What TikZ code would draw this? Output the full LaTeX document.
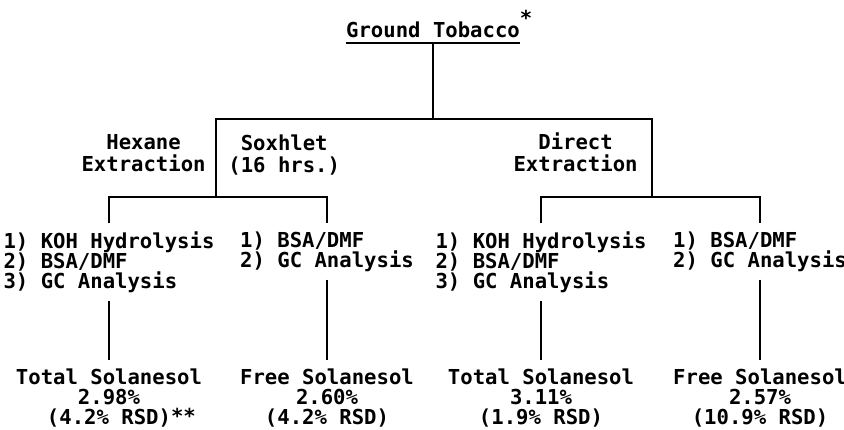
\documentclass[tikz,border=0pt]{standalone}
\usepackage{fontspec}
\setmonofont{DejaVu Sans Mono}
\usepackage{tikz}
\usetikzlibrary{positioning}

\tikzset{
  txt/.style={font=\ttfamily\bfseries\fontsize{10.3}{10}\selectfont, inner sep=0pt, align=center},
  stepbox/.style={txt, align=left, inner sep=4pt, anchor=north},
  resbox/.style={txt, inner sep=4pt, anchor=north},
  branch/.style={line width=1.3pt},
}

\begin{document}
\begin{tikzpicture}[x=0.5pt, y=-0.5pt]
\useasboundingbox (0,0) rectangle (844,429);

% Top of the tree
\node[txt, anchor=base, inner ysep=2.5pt] (ground) at (433,37)
  {Ground Tobacco\rlap{\raisebox{6pt}{*}}};
\draw[line width=1pt] (ground.south west) -- (ground.south east);

% Bus corners
\coordinate (topL) at (216,119);
\coordinate (topR) at (652,119);
\coordinate (hexbus) at (216,197);
\coordinate (dirbus) at (652,197);

% Extraction labels
\node[txt, anchor=north east] (hexane) at (206,134) {Hexane\\[1.2pt]Extraction};
\node[txt, anchor=north west] (soxhlet) at (228,134) {Soxhlet\\[1.2pt](16 hrs.)};
\node[txt, anchor=north east] (direct) at (638,132) {Direct\\[1.2pt]Extraction};

% Work-up steps
\node[stepbox] (hexKOH) at (109,223) {1) KOH Hydrolysis\\2) BSA/DMF\\3) GC Analysis};
\node[stepbox] (hexBSA) at (327,223) {1) BSA/DMF\\2) GC Analysis};
\node[stepbox] (dirKOH) at (541,223) {1) KOH Hydrolysis\\2) BSA/DMF\\3) GC Analysis};
\node[stepbox] (dirBSA) at (760,223) {1) BSA/DMF\\2) GC Analysis};

% Results
\node[resbox] (hexTotal) at (109,360) {Total Solanesol\\2.98\%\\(4.2\% RSD)\rlap{\raisebox{0.5pt}{**}}};
\node[resbox] (hexFree) at (327,360) {Free Solanesol\\2.60\%\\(4.2\% RSD)};
\node[resbox] (dirTotal) at (541,360) {Total Solanesol\\3.11\%\\(1.9\% RSD)};
\node[resbox] (dirFree) at (760,360) {Free Solanesol\\2.57\%\\(10.9\% RSD)};

% Branches
\draw[branch] (ground.south) -- (ground.south |- topL);
\draw[branch] (hexbus) -- (topL) -- (topR) -- (dirbus);
\draw[branch] (hexKOH.north) -- (hexKOH.north |- hexbus) -- (hexBSA.north |- hexbus) -- (hexBSA.north);
\draw[branch] (dirKOH.north) -- (dirKOH.north |- dirbus) -- (dirBSA.north |- dirbus) -- (dirBSA.north);

% Steps to results
\draw[branch] (hexKOH.south) -- (hexTotal.north);
\draw[branch] (hexBSA.south) -- (hexFree.north);
\draw[branch] (dirKOH.south) -- (dirTotal.north);
\draw[branch] (dirBSA.south) -- (dirFree.north);

\end{tikzpicture}
\end{document}
